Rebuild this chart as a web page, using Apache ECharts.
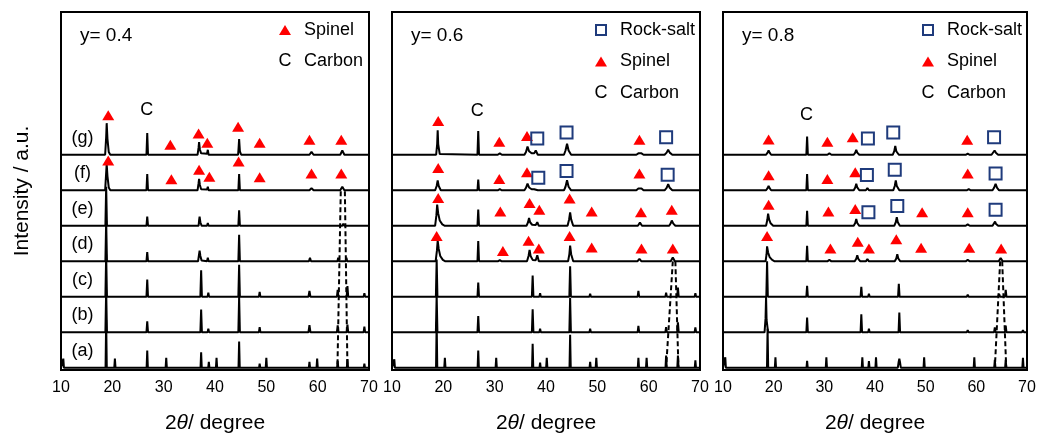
<!DOCTYPE html>
<html>
<head>
<meta charset="utf-8">
<script src="https://cdn.jsdelivr.net/npm/echarts@6/dist/echarts.min.js"></script>
<style>
html,body{margin:0;padding:0;background:#fff;}
#chart{width:1037px;height:436px;}
</style>
</head>
<body>
<div id="chart"></div>
<script>
// ---------- DATA ----------
const xTicks = [10, 20, 30, 40, 50, 60, 70];
const panelTitles = ['y= 0.4', 'y= 0.6', 'y= 0.8'];
const traceNames = ['(a)', '(b)', '(c)', '(d)', '(e)', '(f)', '(g)'];
const offsets = [0, 1, 2, 3, 4, 5, 6];   // vertical stacking of (a)..(g)

// y = 0.4 panel, traces (a)..(g): [2theta, relative intensity]
const y04_a = [[10,0],[10.33,0],[10.45,0.26],[10.57,0],[18.68,0],[18.8,1.35],[18.92,0],[20.38,0],[20.5,0.26],[20.62,0],[26.68,0],[26.8,0.49],[26.92,0],[30.38,0],[30.5,0.28],[30.62,0],[37.18,0],[37.3,0.44],[37.42,0],[38.68,0],[38.8,0.17],[38.92,0],[40.18,0],[40.3,0.28],[40.42,0],[44.58,0],[44.7,0.74],[44.82,0],[48.58,0],[48.7,0.12],[48.82,0],[49.88,0],[50,0.28],[50.12,0],[58.28,0],[58.4,0.17],[58.52,0],[59.78,0],[59.9,0.26],[60.02,0],[63.78,0],[63.9,0.2],[64.02,0],[65.68,0],[65.8,0.25],[65.92,0],[68.98,0],[69.1,0.12],[69.22,0],[70,0]];
const y04_b = [[10,0],[18.65,0],[18.8,1.2],[18.95,0],[26.65,0],[26.8,0.31],[26.95,0],[37.15,0],[37.3,0.64],[37.45,0],[38.55,0],[38.7,0.1],[38.85,0],[44.55,0],[44.7,1.0],[44.85,0],[48.55,0],[48.7,0.15],[48.85,0],[58.2,0],[58.4,0.2],[58.6,0],[63.75,0],[63.9,0.2],[64.05,0],[65.65,0],[65.8,0.22],[65.95,0],[68.95,0],[69.1,0.16],[69.25,0],[70,0]];
const y04_c = [[10,0],[18.65,0],[18.8,1.2],[18.95,0],[26.65,0],[26.8,0.49],[26.95,0],[37.15,0],[37.3,0.75],[37.45,0],[38.55,0],[38.7,0.12],[38.85,0],[44.55,0],[44.7,0.9],[44.85,0],[48.55,0],[48.7,0.14],[48.85,0],[58.2,0],[58.4,0.17],[58.6,0],[63.75,0],[63.9,0.2],[64.05,0],[65.65,0],[65.8,0.3],[65.95,0],[68.95,0],[69.1,0.1],[69.25,0],[70,0]];
const y04_d = [[10,0],[18.65,0],[18.8,1.15],[18.95,0],[26.65,0],[26.8,0.26],[26.95,0],[36.7,0],[36.9,0.2],[37.0,0.3],[37.15,0.15],[37.4,0.02],[38.45,0],[38.6,0.1],[38.75,0],[44.55,0],[44.7,0.75],[44.85,0],[48.6,0],[48.8,0.05],[49.0,0],[58.3,0],[58.5,0.1],[58.7,0],[63.85,0],[64.0,0.1],[64.15,0],[65.45,0],[65.6,0.1],[65.75,0],[68.8,0],[69.0,0.05],[69.2,0],[70,0]];
const y04_e = [[10,0],[18.65,0],[18.8,1.1],[18.95,0],[26.65,0],[26.8,0.26],[26.95,0],[36.8,0],[36.9,0.15],[37.0,0.26],[37.15,0.1],[37.4,0],[38.45,0],[38.6,0.08],[38.75,0],[44.55,0],[44.7,0.44],[44.85,0],[58.4,0],[58.6,0.04],[58.8,0],[64.8,0],[65.0,0.06],[65.2,0],[70,0]];
const y04_f = [[10,0],[18.6,0],[18.8,0.5],[18.9,0.74],[19.05,0.4],[19.3,0.08],[19.6,0],[26.65,0],[26.8,0.46],[26.95,0],[31.0,0],[31.3,0.03],[31.6,0],[36.6,0],[36.8,0.2],[36.9,0.32],[37.05,0.15],[37.3,0.03],[38.45,0.02],[38.6,0.1],[38.75,0],[44.55,0],[44.7,0.46],[44.85,0],[48.7,0],[48.9,0.04],[49.1,0],[58.4,0],[58.8,0.06],[59.2,0],[64.4,0],[64.8,0.1],[65.2,0],[70,0]];
const y04_g = [[10,0],[18.6,0],[18.8,0.5],[18.9,0.89],[19.05,0.45],[19.3,0.08],[19.6,0],[26.65,0],[26.8,0.61],[26.95,0],[31.0,0],[31.3,0.03],[31.6,0],[36.6,0],[36.8,0.2],[36.9,0.36],[37.05,0.15],[37.3,0.04],[38.45,0.03],[38.6,0.14],[38.75,0],[44.5,0],[44.6,0.2],[44.7,0.44],[44.85,0.1],[45.1,0],[48.7,0],[48.9,0.05],[49.1,0],[58.4,0],[58.8,0.08],[59.2,0],[64.4,0],[64.8,0.12],[65.2,0],[70,0]];

// y = 0.6 panel
const y06_a = [[10,0],[10.33,0],[10.45,0.24],[10.57,0],[18.58,0],[18.7,1.3],[18.82,0],[20.18,0],[20.3,0.28],[20.42,0],[26.68,0],[26.8,0.49],[26.92,0],[30.18,0],[30.3,0.28],[30.42,0],[37.28,0],[37.4,0.68],[37.52,0],[38.73,0],[38.85,0.15],[38.97,0],[40.03,0],[40.15,0.28],[40.27,0],[44.58,0],[44.7,0.93],[44.82,0],[48.48,0],[48.6,0.17],[48.72,0],[49.68,0],[49.8,0.28],[49.92,0],[57.88,0],[58.0,0.28],[58.12,0],[59.48,0],[59.6,0.28],[59.72,0],[63.28,0],[63.4,0.35],[63.52,0],[65.58,0],[65.7,0.35],[65.82,0],[68.98,0],[69.1,0.21],[69.22,0],[70,0]];
const y06_b = [[10,0],[18.55,0],[18.7,1.05],[18.85,0],[26.65,0],[26.8,0.46],[26.95,0],[37.25,0],[37.4,0.65],[37.55,0],[38.7,0],[38.85,0.1],[39.0,0],[44.55,0],[44.7,0.97],[44.85,0],[48.45,0],[48.6,0.1],[48.75,0],[57.85,0],[58.0,0.18],[58.15,0],[63.25,0],[63.4,0.15],[63.55,0],[65.55,0],[65.7,0.28],[65.85,0],[68.95,0],[69.1,0.14],[69.25,0],[70,0]];
const y06_c = [[10,0],[18.55,0],[18.7,1.05],[18.85,0],[26.65,0],[26.8,0.4],[26.95,0],[37.25,0],[37.4,0.6],[37.55,0],[38.7,0],[38.85,0.1],[39.0,0],[44.55,0],[44.7,0.86],[44.85,0],[48.45,0],[48.6,0.09],[48.75,0],[57.85,0],[58.0,0.17],[58.15,0],[63.25,0],[63.4,0.12],[63.55,0],[65.55,0],[65.7,0.26],[65.85,0],[68.95,0],[69.1,0.1],[69.25,0],[70,0]];
const y06_d = [[10,0],[18.5,0],[18.75,0.3],[18.9,0.58],[19.1,0.35],[19.4,0.15],[19.9,0.04],[20.4,0],[26.65,0],[26.8,0.57],[26.95,0],[30.6,0],[31.0,0.03],[31.4,0],[36.3,0],[36.6,0.15],[36.8,0.32],[37.0,0.15],[37.4,0.04],[38.0,0.03],[38.3,0.17],[38.6,0],[44.3,0],[44.55,0.2],[44.7,0.44],[44.9,0.2],[45.3,0],[48.7,0],[49.0,0.05],[49.3,0],[57.8,0],[58.2,0.07],[58.6,0],[64.3,0],[64.7,0.11],[65.1,0],[68.6,0],[68.9,0.04],[69.2,0],[70,0]];
const y06_e = [[10,0],[18.4,0],[18.65,0.3],[18.8,0.6],[19.0,0.35],[19.3,0.15],[19.8,0.04],[20.3,0],[26.65,0],[26.8,0.46],[26.95,0],[36.2,0],[36.5,0.1],[36.7,0.22],[36.9,0.1],[37.3,0.03],[38.0,0.02],[38.3,0.1],[38.6,0],[44.2,0],[44.5,0.18],[44.7,0.38],[44.9,0.18],[45.3,0],[57.9,0],[58.3,0.09],[58.7,0],[64.0,0],[64.3,0.07],[64.5,0.15],[64.8,0.06],[65.2,0],[70,0]];
const y06_f = [[10,0],[18.4,0],[18.7,0.12],[18.9,0.28],[19.1,0.12],[19.5,0],[26.65,0],[26.8,0.3],[26.95,0],[30.6,0],[31.0,0.03],[31.4,0],[35.8,0],[36.1,0.07],[36.4,0.19],[36.7,0.08],[37.2,0.03],[37.7,0.03],[38.0,0.08],[38.4,0],[43.5,0],[43.8,0.1],[44.1,0.28],[44.4,0.1],[44.9,0],[57.6,0],[58.0,0.05],[58.3,0.08],[58.6,0.05],[59.0,0],[63.1,0],[63.5,0.07],[63.8,0.17],[64.1,0.07],[64.6,0],[70,0]];
const y06_g = [[10,0],[18.6,0],[18.8,0.3],[18.9,0.69],[19.0,0.3],[19.3,0.02],[19.6,0],[26.65,0],[26.8,0.67],[26.95,0],[30.6,0],[31.0,0.04],[31.4,0],[35.8,0],[36.1,0.08],[36.4,0.23],[36.7,0.1],[37.2,0.04],[37.7,0.04],[38.0,0.12],[38.4,0],[43.5,0],[43.8,0.12],[44.1,0.31],[44.4,0.12],[44.9,0],[57.6,0],[58.0,0.04],[58.3,0.07],[58.6,0.04],[59.0,0],[63.1,0],[63.5,0.06],[63.8,0.14],[64.1,0.06],[64.6,0],[70,0]];

// y = 0.8 panel
const y08_a = [[10,0],[10.33,0],[10.45,0.3],[10.57,0],[18.68,0],[18.8,1.1],[18.92,0],[20.23,0],[20.35,0.3],[20.47,0],[26.48,0],[26.6,0.2],[26.72,0],[30.28,0],[30.4,0.3],[30.52,0],[37.38,0],[37.5,0.3],[37.62,0],[38.68,0],[38.8,0.19],[38.92,0],[40.08,0],[40.2,0.3],[40.32,0],[44.5,0],[44.65,0.15],[44.8,0.26],[44.95,0.15],[45.1,0],[49.58,0],[49.7,0.3],[49.82,0],[59.48,0],[59.6,0.3],[59.72,0],[63.53,0],[63.65,0.23],[63.77,0],[65.68,0],[65.8,0.23],[65.92,0],[69.08,0],[69.2,0.28],[69.32,0],[70,0]];
const y08_b = [[10,0],[18.2,0],[18.4,0.4],[18.5,1.0],[18.6,0.35],[18.9,0],[26.45,0],[26.6,0.42],[26.75,0],[37.15,0],[37.3,0.51],[37.45,0],[38.65,0],[38.8,0.1],[38.95,0],[44.65,0],[44.8,0.56],[44.95,0],[48.8,0],[49.0,0.04],[49.2,0],[58.1,0],[58.3,0.06],[58.5,0],[63.5,0],[63.65,0.14],[63.8,0],[65.65,0],[65.8,0.19],[65.95,0],[69.0,0],[69.2,0.06],[69.4,0],[70,0]];
const y08_c = [[10,0],[18.55,0],[18.7,1.0],[18.85,0],[26.45,0],[26.6,0.31],[26.75,0],[37.15,0],[37.3,0.28],[37.45,0],[38.65,0],[38.8,0.09],[38.95,0],[44.55,0],[44.7,0.37],[44.85,0],[58.1,0],[58.3,0.06],[58.5,0],[64.3,0],[64.5,0.08],[64.7,0],[65.65,0],[65.8,0.2],[65.95,0],[69.0,0],[69.2,0.04],[69.4,0],[70,0]];
const y08_d = [[10,0],[18.4,0],[18.6,0.2],[18.7,0.42],[18.9,0.25],[19.2,0.12],[19.7,0.04],[20.2,0],[26.45,0],[26.6,0.44],[26.75,0],[30.6,0],[31.0,0.04],[31.4,0],[36.0,0],[36.3,0.07],[36.5,0.17],[36.7,0.07],[37.1,0],[38.2,0],[38.5,0.06],[38.8,0],[43.9,0],[44.2,0.08],[44.4,0.2],[44.6,0.08],[45.0,0],[48.7,0],[49.0,0.03],[49.3,0],[57.9,0],[58.3,0.04],[58.7,0],[64.4,0],[64.8,0.09],[65.2,0],[70,0]];
const y08_e = [[10,0],[18.5,0],[18.75,0.17],[18.9,0.34],[19.1,0.18],[19.4,0.07],[19.9,0],[26.45,0],[26.6,0.42],[26.75,0],[35.8,0],[36.1,0.08],[36.3,0.19],[36.5,0.08],[36.9,0],[38.2,0],[38.5,0.05],[38.8,0],[43.8,0],[44.1,0.1],[44.3,0.24],[44.5,0.1],[44.9,0],[57.9,0],[58.3,0.04],[58.7,0],[63.2,0],[63.5,0.05],[63.7,0.12],[63.9,0.05],[64.3,0],[70,0]];
const y08_f = [[10,0],[18.5,0],[18.8,0.06],[19.0,0.12],[19.2,0.06],[19.5,0],[26.45,0],[26.6,0.46],[26.75,0],[35.8,0],[36.1,0.08],[36.3,0.18],[36.5,0.08],[36.9,0],[38.2,0],[38.5,0.06],[38.8,0],[43.6,0],[43.9,0.12],[44.1,0.28],[44.3,0.12],[44.8,0],[58.1,0],[58.5,0.03],[58.9,0],[63.2,0],[63.5,0.07],[63.8,0.18],[64.1,0.07],[64.5,0],[70,0]];
const y08_g = [[10,0],[18.5,0],[18.8,0.06],[19.0,0.12],[19.2,0.06],[19.5,0],[26.45,0],[26.6,0.51],[26.75,0],[30.6,0],[31.0,0.04],[31.4,0],[35.8,0],[36.1,0.06],[36.3,0.14],[36.5,0.06],[36.9,0],[38.2,0],[38.5,0.05],[38.8,0],[43.5,0],[43.8,0.1],[44.0,0.25],[44.2,0.1],[44.7,0],[57.9,0],[58.3,0.03],[58.7,0],[63.0,0],[63.3,0.05],[63.6,0.12],[63.9,0.05],[64.3,0],[70,0]];

// phase markers [2theta, stacked height]
const spinel04 = [[19.2,7.11],[31.3,6.28],[36.8,6.6],[38.5,6.34],[44.5,6.79],[48.7,6.34],[58.4,6.42],[64.6,6.42],
                  [19.2,5.84],[31.5,5.31],[36.9,5.58],[38.9,5.38],[44.6,5.81],[48.7,5.37],[58.8,5.47],[64.6,5.47]];
const rocksalt04 = [];
const carbon04 = [[26.7,7.25]];

const spinel06 = [[19.0,6.95],[30.9,6.37],[36.3,6.53],[58.2,6.42],
                  [19.0,5.63],[30.9,5.32],[36.3,5.51],[58.2,5.47],
                  [19.0,4.78],[31.1,4.4],[36.8,4.64],[38.7,4.45],[44.6,4.77],[48.9,4.4],[58.5,4.38],[64.5,4.45],
                  [18.7,3.71],[31.6,3.29],[36.6,3.58],[38.6,3.36],[44.6,3.71],[48.9,3.39],[58.6,3.36],[64.7,3.36]];
const rocksalt06 = [[38.3,6.46],[44.0,6.63],[63.4,6.49],
                    [38.5,5.35],[44.0,5.54],[63.7,5.44]];
const carbon06 = [[26.6,7.23]];

const spinel08 = [[19.0,6.43],[30.6,6.37],[35.6,6.49],[58.2,6.42],
                  [19.0,5.42],[30.6,5.32],[36.1,5.51],[58.3,5.47],
                  [19.0,4.59],[30.8,4.4],[36.1,4.47],[49.3,4.38],[58.3,4.38],
                  [18.7,3.71],[31.2,3.36],[36.6,3.55],[38.8,3.36],[44.2,3.62],[49.1,3.38],[58.6,3.38],[64.9,3.36]];
const rocksalt08 = [[38.6,6.46],[43.6,6.63],[63.5,6.49],
                    [38.4,5.43],[43.9,5.58],[63.8,5.47],
                    [38.7,4.38],[44.4,4.56],[63.8,4.45]];
const carbon08 = [[26.5,7.11]];

// dashed guide lines (peak splitting near 65 deg)
const guide04 = [[[64.5,4.97],[63.85,0]], [[65.3,4.97],[65.8,0]]];
const guide06 = [[[64.7,3.0],[63.4,0]], [[65.2,3.0],[65.8,0]]];
const guide08 = [[[64.7,3.0],[63.65,0]], [[65.1,3.0],[65.9,0]]];

// trace label anchor (2theta) for panel y=0.4
const traceLabelX = 14.2;

// ---------- BUILD ----------
const panels = [
  {traces:[y04_a,y04_b,y04_c,y04_d,y04_e,y04_f,y04_g], spinel:spinel04, rocksalt:rocksalt04, carbon:carbon04, guides:guide04, legend:['Spinel','Carbon']},
  {traces:[y06_a,y06_b,y06_c,y06_d,y06_e,y06_f,y06_g], spinel:spinel06, rocksalt:rocksalt06, carbon:carbon06, guides:guide06, legend:['Rock-salt','Spinel','Carbon']},
  {traces:[y08_a,y08_b,y08_c,y08_d,y08_e,y08_f,y08_g], spinel:spinel08, rocksalt:rocksalt08, carbon:carbon08, guides:guide08, legend:['Rock-salt','Spinel','Carbon']}
];

const FONT = '"Liberation Sans", Arial, sans-serif';
const gridLefts = [61, 392, 723];
const gridWidths = [308, 308, 304];
const RED = '#ff0000';
const NAVY = '#1f3b7c';
const INK = '#000';

const grids = [], xAxes = [], yAxes = [], series = [], graphics = [];

panels.forEach((p, i) => {
  grids.push({left: gridLefts[i], top: 12, width: gridWidths[i], height: 358,
              outerBoundsMode: 'none', containLabel: false,
              show: true, borderColor: INK, borderWidth: 2, backgroundColor: 'transparent'});
  xAxes.push({
    type: 'value', gridIndex: i, min: xTicks[0], max: xTicks[xTicks.length-1], interval: 10,
    axisLine: {show: false}, axisTick: {show: false}, splitLine: {show: false},
    axisLabel: {color: INK, fontSize: 16, fontFamily: FONT, margin: 10},
    name: '{n|2}{i|θ}{n|/ degree}', nameLocation: 'middle', nameGap: 43,
    nameTextStyle: {rich: {
      n: {fontSize: 21, fontFamily: FONT, color: INK},
      i: {fontSize: 21, fontFamily: FONT, color: INK, fontStyle: 'italic'}
    }}
  });
  yAxes.push({
    type: 'value', gridIndex: i, min: -0.06, max: 10.02,
    axisLine: {show: false}, axisTick: {show: false}, splitLine: {show: false},
    axisLabel: {show: false},
    name: i === 0 ? 'Intensity / a.u.' : '', nameLocation: 'middle', nameGap: 28,
    nameTextStyle: {fontSize: 21, fontFamily: FONT, color: INK}
  });

  p.traces.forEach((tr, j) => {
    series.push({
      type: 'line', name: panelTitles[i] + ' ' + traceNames[j], xAxisIndex: i, yAxisIndex: i,
      data: tr.map(([x, y]) => [x, y + offsets[j]]),
      showSymbol: false, symbol: 'none', silent: true, animation: false,
      lineStyle: {color: INK, width: 2}, z: 2
    });
  });

  p.guides.forEach(g => {
    series.push({
      type: 'line', xAxisIndex: i, yAxisIndex: i, data: g, showSymbol: false, symbol: 'none',
      animation: false, silent: true,
      lineStyle: {color: INK, width: 2, type: [5, 3]}, z: 3
    });
  });

  series.push({
    type: 'scatter', name: 'Spinel', xAxisIndex: i, yAxisIndex: i, data: p.spinel,
    symbol: 'triangle', symbolSize: [12, 10], itemStyle: {color: RED, opacity: 1}, animation: false, z: 5
  });
  if (p.rocksalt.length) {
    series.push({
      type: 'scatter', name: 'Rock-salt', xAxisIndex: i, yAxisIndex: i, data: p.rocksalt,
      symbol: 'rect', symbolSize: 12,
      itemStyle: {color: 'rgba(255,255,255,0)', borderColor: NAVY, borderWidth: 2, opacity: 1},
      animation: false, z: 5
    });
  }
  series.push({
    type: 'scatter', name: 'Carbon', xAxisIndex: i, yAxisIndex: i, data: p.carbon,
    symbol: 'circle', symbolSize: 0.01, itemStyle: {color: '#fff', opacity: 1}, animation: false, z: 5,
    label: {show: true, position: 'inside', formatter: 'C', color: INK, opacity: 1, fontSize: 18, fontFamily: FONT}
  });

  if (i === 0) {
    series.push({
      type: 'scatter', name: 'trace labels', xAxisIndex: 0, yAxisIndex: 0,
      data: offsets.map((o, j) => ({value: [traceLabelX, o + 0.48], name: traceNames[j]})),
      symbol: 'circle', symbolSize: 0.01, itemStyle: {color: '#fff', opacity: 1}, animation: false, z: 5,
      label: {show: true, position: 'inside', formatter: '{b}', color: INK, opacity: 1, fontSize: 18, fontFamily: FONT}
    });
  }

  // panel title and legend
  const L = gridLefts[i], R = L + gridWidths[i];
  graphics.push({type: 'text', x: L + 19, y: 36, style: {text: panelTitles[i], fontSize: 19, fontFamily: FONT, fill: INK, verticalAlign: 'middle'}});
  const symX = i === 0 ? 285 : R - 99;
  const txtX = symX + 19;
  p.legend.forEach((name, k) => {
    const cy = 30 + k * 31.5;
    if (name === 'Spinel') {
      graphics.push({type: 'polygon', shape: {points: [[symX - 6, cy + 5], [symX + 6, cy + 5], [symX, cy - 5]]}, style: {fill: RED}});
    } else if (name === 'Rock-salt') {
      graphics.push({type: 'rect', shape: {x: symX - 5, y: cy - 5, width: 10, height: 10}, style: {fill: 'none', stroke: NAVY, lineWidth: 2}});
    } else {
      graphics.push({type: 'text', x: symX, y: cy, style: {text: 'C', fontSize: 18, fontFamily: FONT, fill: INK, align: 'center', verticalAlign: 'middle'}});
    }
    graphics.push({type: 'text', x: txtX, y: cy, style: {text: name, fontSize: 18, fontFamily: FONT, fill: INK, align: 'left', verticalAlign: 'middle'}});
  });
});

const chart = echarts.init(document.getElementById('chart'), null, {renderer: 'canvas'});
chart.setOption({
  backgroundColor: '#fff',
  animation: false,
  grid: grids, xAxis: xAxes, yAxis: yAxes, series: series,
  graphic: graphics
});
</script>
</body>
</html>
